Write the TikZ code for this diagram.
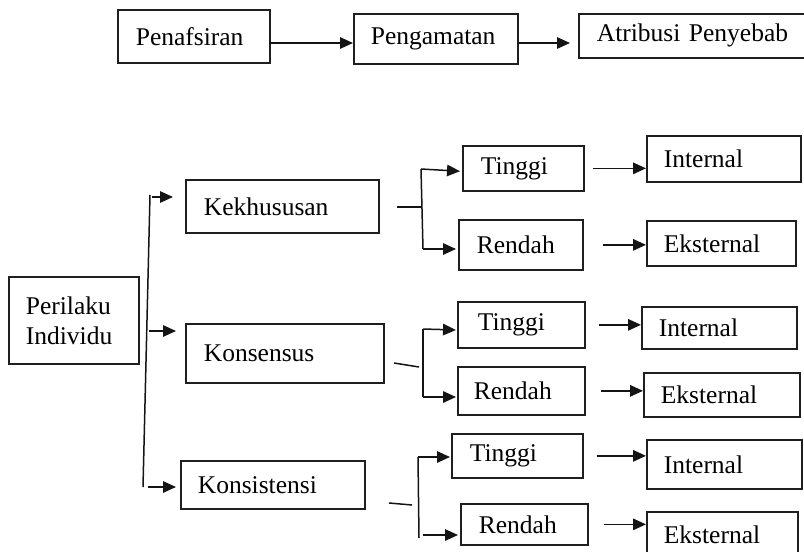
\documentclass[tikz,border=0pt]{standalone}
\usepackage{fontspec}
\setmainfont{Liberation Serif}
\usetikzlibrary{arrows.meta,calc}

\tikzset{
  box/.style={draw=black!88, line width=1.7pt, align=left, inner ysep=0pt,
    font=\fontsize{25.5}{30}\selectfont, text=black},
  link/.style={draw=black!92, line width=1.5pt},
  arr/.style={link, -{Triangle[length=13pt,width=11.5pt]}}
}

% box given by its left, top, right, bottom edges and the x where the text starts
\newcommand\flowbox[7]{%
  \pgfmathsetmacro\bxsep{#6-#2}%
  \pgfmathsetmacro\bxwid{#4-#2-2*(#6-#2)}%
  \pgfmathsetmacro\bxhgt{#5-#3}%
  \node[box, anchor=north west, inner xsep=\bxsep pt, text width=\bxwid pt,
        minimum height=\bxhgt pt] (#1) at (#2,#3) {#7};%
}

\begin{document}
\begin{tikzpicture}[x=1pt, y=-1pt]
\useasboundingbox (0,0) rectangle (804,552);

% ---- top chain ----
\flowbox{pen}{117}{9}{269}{62}{135}{Penafsiran}
\flowbox{pgm}{353}{13}{517}{63}{370}{Pengamatan}
\flowbox{atr}{578}{13}{842}{57}{596}{Atribusi Penyebab}
\coordinate (a1) at (269,43);
\coordinate (a2) at (518,43);
\draw[arr] (a1) -- (a1 -| pgm.west);
\draw[arr, shorten >=8pt] (a2) -- (a2 -| atr.west);

% ---- attribution tree ----
\flowbox{per}{8}{276}{138}{363}{25}{Perilaku\\Individu}
\flowbox{kek}{185}{179}{378}{232}{203}{Kekhususan}
\flowbox{kon}{185}{323}{383}{382}{203}{Konsensus}
\flowbox{kst}{180}{460}{364}{508}{197}{Konsistensi}

% trunk leaving the behaviour box
\coordinate (m0) at (150,195);
\coordinate (m1) at (143,487);
\draw[link] (m0) -- (m1);
\coordinate (b1) at (152,197);
\coordinate (b2) at (149,331);
\coordinate (b3) at (148,487);
\draw[arr, shorten >=12pt] (b1) -- (b1 -| kek.west);
\draw[arr, shorten >=9pt]  (b2) -- (b2 -| kon.west);
\draw[arr, shorten >=4pt]  (b3) -- (b3 -| kst.west);

% branch: Kekhususan
\flowbox{t1}{462}{145}{583}{190}{480}{Tinggi}
\flowbox{r1}{458}{219}{582}{269}{476}{Rendah}
\flowbox{i1}{646}{135}{800}{181}{663}{Internal}
\flowbox{e1}{646}{220}{795}{265}{663}{Eksternal}
\coordinate (s1a) at (397,207);
\coordinate (s1b) at (422,207);
\coordinate (v1t) at (421,169);
\coordinate (v1b) at (423,249);
\draw[link] (s1a) -- (s1b);
\draw[link] (v1t) -- (v1b);
\draw[arr, shorten >=2pt] (v1t) -- ($(t1.west)+(0,3)$);
\draw[arr, shorten >=2pt] (v1b) -- (v1b -| r1.west);
\draw[arr, shorten <=8pt] (t1.east) -- (t1.east -| i1.west);
\draw[arr, shorten <=19pt] (r1.east) -- (r1.east -| e1.west);

% branch: Konsensus
\flowbox{t2}{457}{301}{584}{347}{477}{Tinggi}
\flowbox{r2}{457}{366}{584}{414}{473}{Rendah}
\flowbox{i2}{641}{306}{796}{348}{658}{Internal}
\flowbox{e2}{643}{372}{799}{416}{660}{Eksternal}
\coordinate (s2a) at (394,363);
\coordinate (s2b) at (419,367);
\coordinate (v2t) at (423,329);
\coordinate (v2b) at (423,397);
\draw[link] (s2a) -- (s2b);
\draw[link] (v2t) -- (v2b);
\draw[arr, shorten >=1pt] (v2t) -- ($(v2t -| t2.west)+(0,1)$);
\draw[arr, shorten >=1pt] (v2b) -- (v2b -| r2.west);
\draw[arr, shorten <=13pt] (t2.east) -- (t2.east -| i2.west);
\draw[arr, shorten <=15pt] (r2.east) -- (r2.east -| e2.west);

% branch: Konsistensi
\flowbox{t3}{451}{433}{582}{477}{469}{Tinggi}
\flowbox{r3}{460}{503}{587}{544}{478}{Rendah}
\flowbox{i3}{646}{439}{801}{488}{663}{Internal}
\flowbox{e3}{646}{511}{797}{557}{663}{Eksternal}
\coordinate (s3a) at (389,503);
\coordinate (s3b) at (412,505);
\coordinate (v3t) at (418,457);
\coordinate (v3b) at (419,538);
\coordinate (v3r) at (423,535);
\draw[link] (s3a) -- (s3b);
\draw[link] (v3t) -- (v3b);
\draw[arr, shorten >=1pt] (v3t) -- (v3t -| t3.west);
\draw[arr, shorten >=2pt] (v3r) -- (v3r -| r3.west);
\draw[arr, shorten <=13pt] (t3.east) -- (t3.east -| i3.west);
\draw[arr, shorten <=15pt] (r3.east) -- (r3.east -| e3.west);
\end{tikzpicture}
\end{document}
